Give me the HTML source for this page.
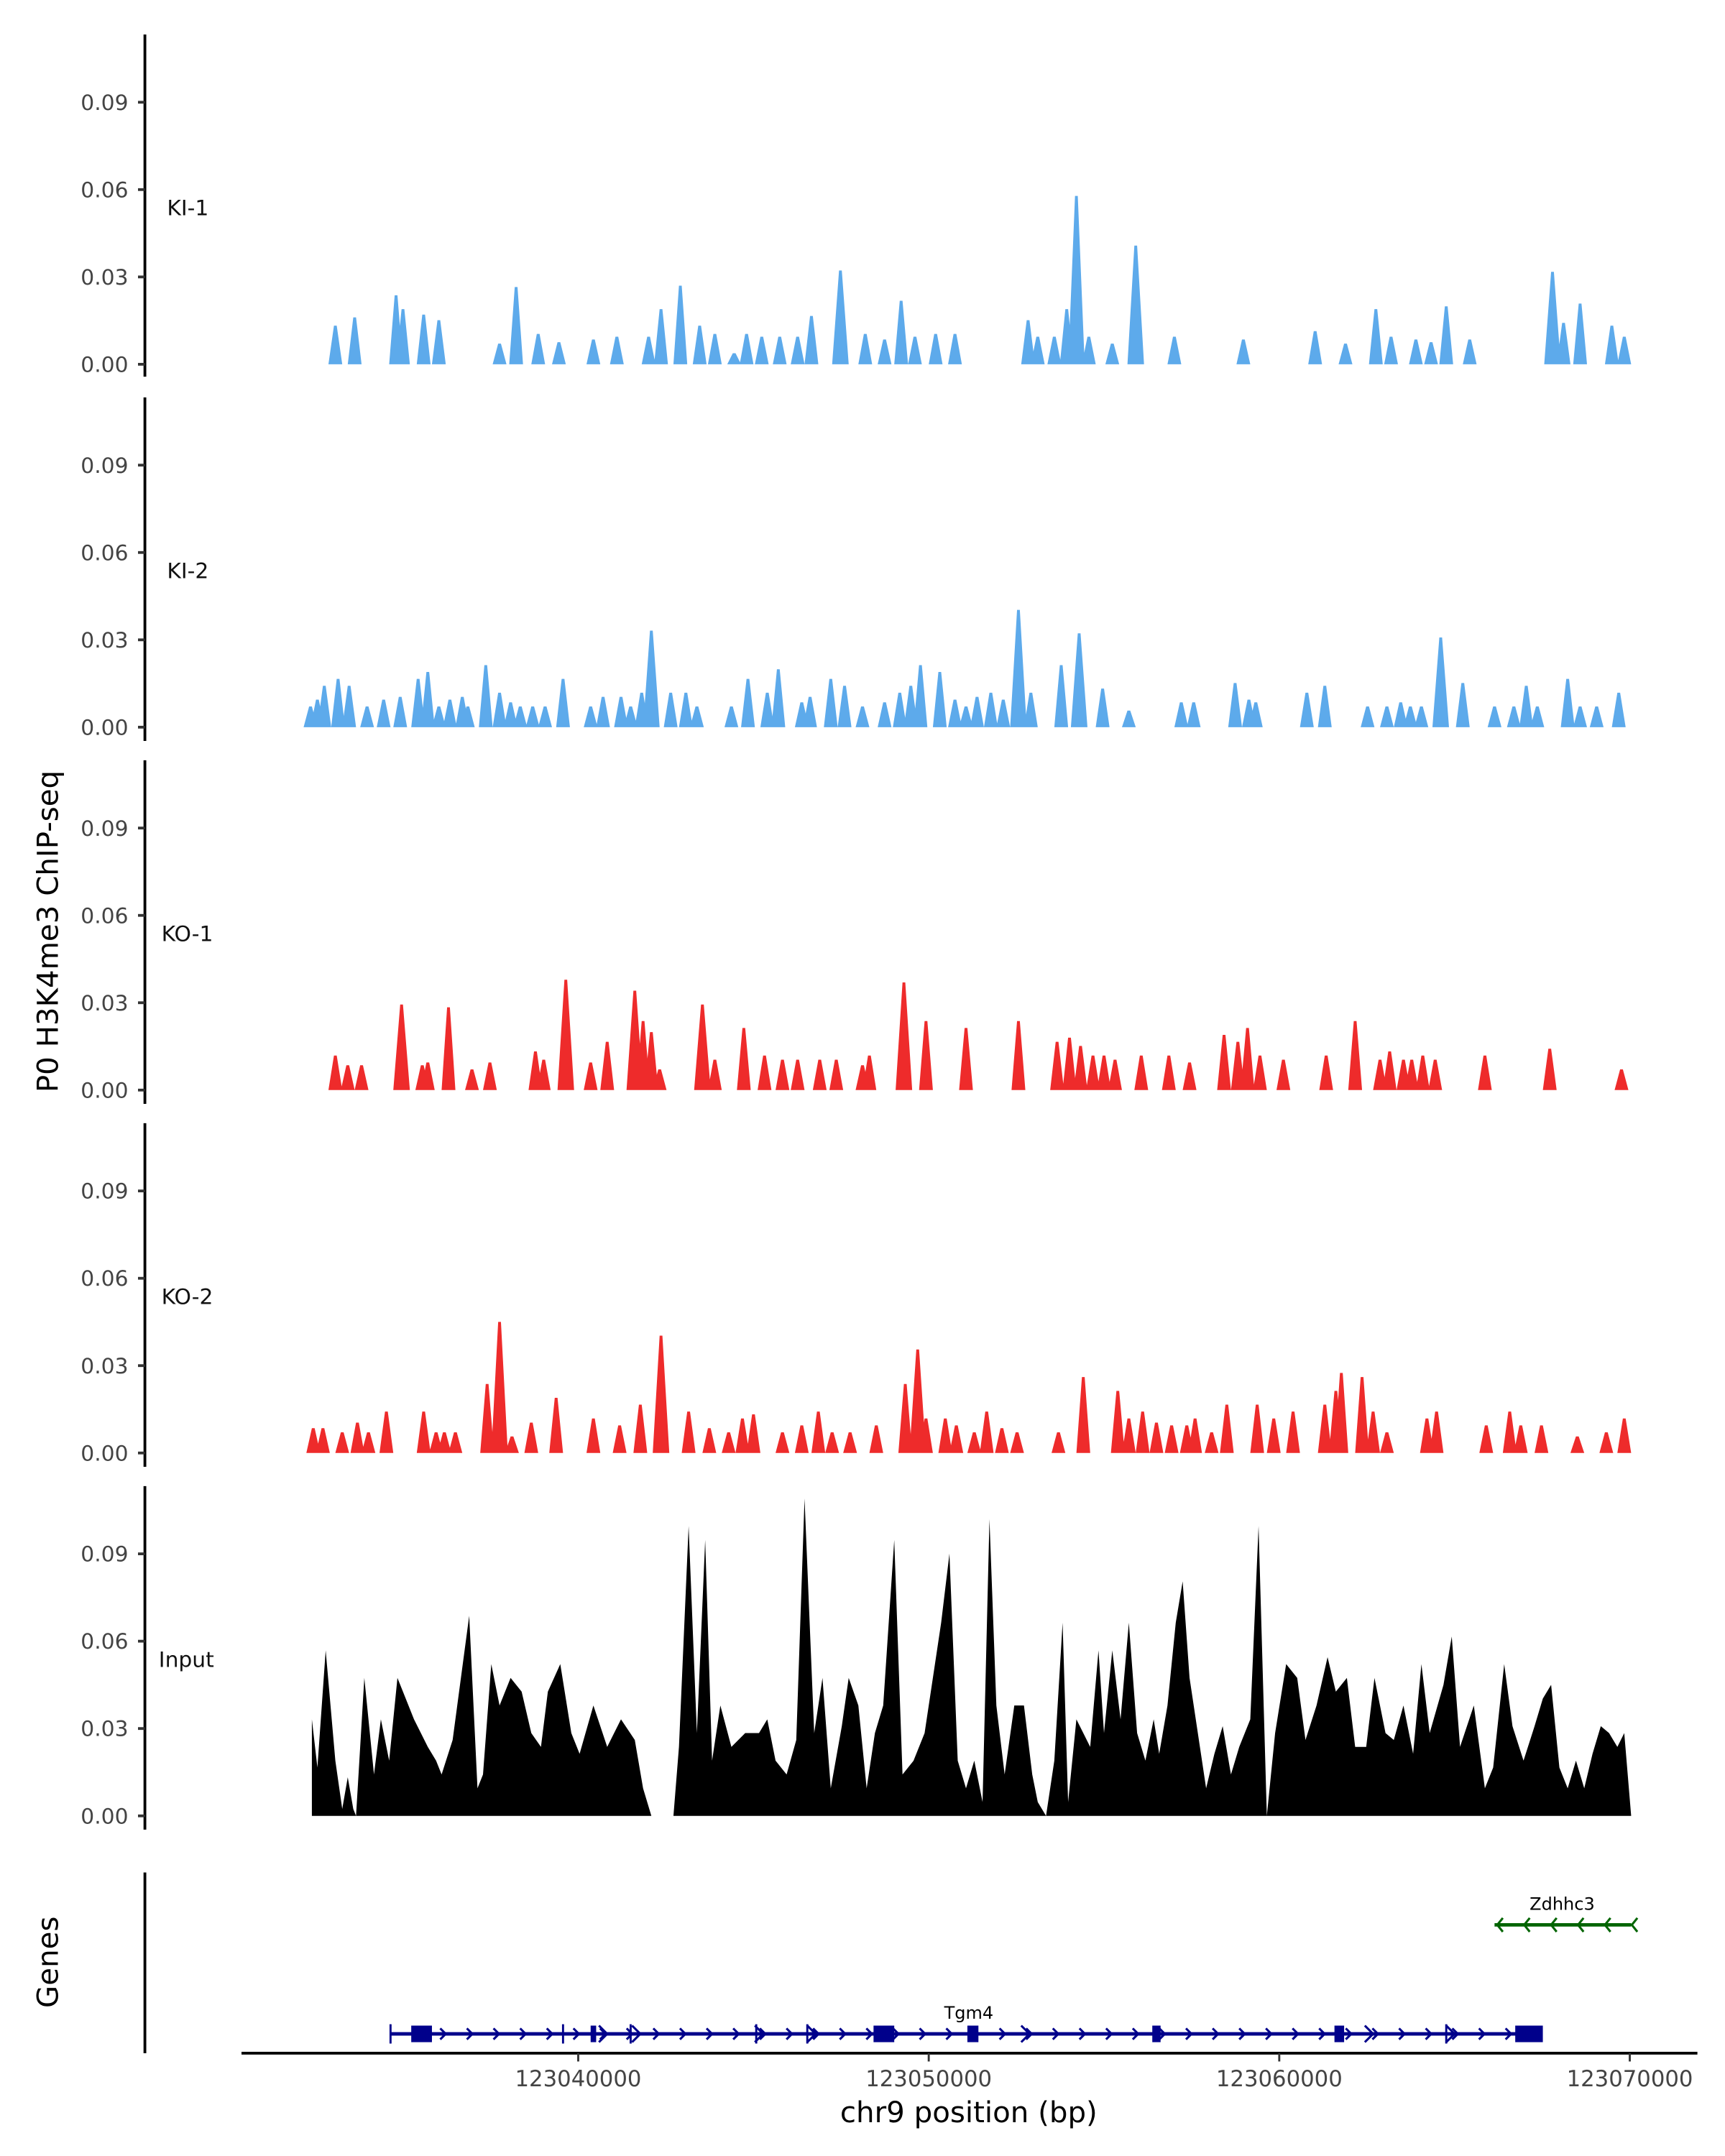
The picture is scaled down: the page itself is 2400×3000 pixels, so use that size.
<!DOCTYPE html>
<html><head><meta charset="utf-8"><style>html,body{margin:0;padding:0;background:#fff}svg{display:block}</style></head>
<body>
<svg id="s" width="2400" height="3000" viewBox="0 0 1250 1562.5" preserveAspectRatio="none" xmlns="http://www.w3.org/2000/svg" font-family="DejaVu Sans, Liberation Sans, sans-serif">
<g id="axes" stroke="#000" stroke-width="2" fill="none">
<line x1="105" y1="25" x2="105" y2="273"/>
<line x1="105" y1="288" x2="105" y2="537"/>
<line x1="105" y1="551" x2="105" y2="800"/>
<line x1="105" y1="814" x2="105" y2="1063"/>
<line x1="105" y1="1077" x2="105" y2="1326"/>
<line x1="105" y1="1357" x2="105" y2="1488"/>
<line x1="175" y1="1488" x2="1230" y2="1488"/>
</g>
<g id="ticks"></g>
<g font-size="15.5" fill="#111">
<text x="121" y="156">KI-1</text>
<text x="121" y="419">KI-2</text>
<text x="117" y="682">KO-1</text>
<text x="117" y="945">KO-2</text>
<text x="115" y="1208">Input</text>
</g>
<text transform="translate(42,675) rotate(-90)" text-anchor="middle" font-size="21" fill="#000">P0 H3K4me3 ChIP-seq</text>
<text transform="translate(42,1422) rotate(-90)" text-anchor="middle" font-size="21" fill="#000">Genes</text>
<g font-size="16" fill="#444" text-anchor="middle">
<text x="419" y="1512">123040000</text><text x="673" y="1512">123050000</text>
<text x="927" y="1512">123060000</text><text x="1181" y="1512">123070000</text>
</g>
<g stroke="#333" stroke-width="1.5"><line x1="419" y1="1488" x2="419" y2="1494"/><line x1="673" y1="1488" x2="673" y2="1494"/><line x1="927" y1="1488" x2="927" y2="1494"/><line x1="1181" y1="1488" x2="1181" y2="1494"/></g>
<text x="702" y="1538" text-anchor="middle" font-size="21" fill="#000">chr9 position (bp)</text>
<g id="tracks"></g>
<g id="genes"></g>
<text x="702" y="1463" text-anchor="middle" font-size="12.5">Tgm4</text>
<text x="1132" y="1384" text-anchor="middle" font-size="12.5">Zdhhc3</text>
</svg>
<script>
var NS="http://www.w3.org/2000/svg";
function el(p,t,a){var e=document.createElementNS(NS,t);for(var k in a)e.setAttribute(k,a[k]);document.getElementById(p).appendChild(e);return e;}
var bases=[264,527,790,1053,1316];
bases.forEach(function(b){
 for(var i=0;i<4;i++){var y=b-i*63.3;
  el("ticks","line",{x1:100,x2:105,y1:y,y2:y,stroke:"#333","stroke-width":2});
  var t=el("ticks","text",{x:93,y:y+5.5,"text-anchor":"end","font-size":"15.5",fill:"#444"});t.textContent=["0.00","0.03","0.06","0.09"][i];}
});
function peaks(str,base,col){
 var d="";str.split(",").forEach(function(p){var a=p.split(":");var x=+a[0],h=+a[1];var w=h>60?6:5;
 d+="M"+(x-w)+","+base+"L"+(x-1)+","+(base-h)+"L"+(x+1)+","+(base-h)+"L"+(x+w)+","+base+"Z";});
 el("tracks","path",{d:d,fill:col});
}
var blue="#5DAAEB",red="#EE2B2B";
peaks("243:28,257:34,287:50,292:40,307:36,318:32,362:15,374:56,390:22,405:16,430:18,447:20,470:20,479:40,493:57,507:28,518:22,532:8,541:22,552:20,565:20,578:20,588:35,609:68,627:22,641:18,653:46,663:20,678:22,692:22,745:32,752:20,764:20,773:40,780:122,789:20,806:15,823:86,851:20,901:18,953:24,975:15,997:40,1008:20,1026:18,1037:16,1048:42,1065:18,1125:67,1133:30,1145:44,1168:28,1177:20",264,blue);
peaks("225:15,230:20,235:30,245:35,253:30,266:15,278:20,290:22,303:35,310:40,318:15,326:20,335:22,339:15,352:45,362:25,370:18,377:15,386:15,395:15,408:35,428:15,437:22,450:22,457:15,465:25,472:70,486:25,497:25,505:15,530:15,542:35,556:25,564:42,581:18,587:22,602:35,612:30,625:15,641:18,652:25,660:30,667:45,681:40,692:20,700:15,708:22,718:25,727:20,738:85,747:25,769:45,782:68,799:28,818:12,856:18,865:18,895:32,905:20,910:18,947:25,960:30,991:15,1005:15,1015:18,1022:15,1030:15,1044:65,1060:32,1083:15,1097:15,1106:30,1114:15,1136:35,1145:15,1157:15,1173:25",527,blue);
peaks("243:25,252:18,262:18,291:62,306:18,310:20,325:60,342:15,355:20,388:28,394:22,410:80,428:20,440:35,460:72,466:50,472:42,478:15,509:62,518:22,539:45,554:25,567:22,578:22,594:22,606:22,625:18,630:25,655:78,671:50,700:45,738:50,766:35,775:38,783:32,792:25,800:25,808:22,827:25,847:25,862:20,887:40,897:35,904:45,913:25,930:22,961:25,982:50,1000:22,1007:28,1017:22,1023:22,1031:25,1040:22,1076:25,1123:30,1175:15",790,red);
peaks("227:18,234:18,248:15,259:22,267:15,280:30,307:30,316:15,322:15,330:15,353:50,362:95,371:12,385:22,403:40,430:25,449:20,464:35,479:85,499:30,514:18,528:15,538:25,546:28,567:15,581:20,593:30,603:15,616:15,635:20,656:50,665:75,671:25,685:25,693:20,706:15,715:30,726:18,737:15,767:15,785:55,810:45,818:25,828:30,838:22,849:20,860:20,866:25,878:15,889:35,911:35,923:25,937:30,960:35,968:45,972:58,987:55,995:30,1005:15,1034:25,1041:30,1077:20,1094:30,1102:20,1117:20,1143:12,1164:15,1177:25",1053,red);
var inp="226:70,230:35,236:120,243:40,248:5,252:28,256:5,258:0,264:100,271:30,276:70,282:40,288:100,292:90,300:70,310:50,316:40,320:30,328:55,340:145,346:20,350:30,356:110,362:80,370:100,378:90,385:60,392:50,397:90,406:110,414:60,420:45,430:80,440:50,450:70,460:55,466:20,472:0,488:0,492:50,499:210,505:60,511:200,516:40,522:80,530:50,540:60,550:60,556:70,562:40,570:30,577:55,583:230,590:60,596:100,602:20,610:65,615:100,622:80,628:20,634:60,640:80,648:200,654:30,662:40,670:60,682:140,688:190,694:40,700:20,706:40,712:10,717:215,722:80,728:30,735:80,742:80,748:30,752:10,758:0,764:40,770:140,774:10,780:70,790:50,796:120,800:60,806:120,812:70,818:140,824:60,830:40,836:70,840:45,846:80,852:140,857:170,862:100,868:60,874:20,880:45,886:65,892:30,898:50,906:70,912:210,918:0,924:60,932:110,940:100,946:55,954:80,962:115,968:90,976:100,982:50,990:50,996:100,1004:60,1010:55,1017:80,1024:45,1030:110,1036:60,1046:95,1052:130,1058:50,1068:80,1076:20,1082:35,1090:110,1096:65,1104:40,1112:65,1118:85,1124:95,1130:35,1136:20,1142:40,1148:20,1154:45,1160:65,1166:60,1172:50,1177:60,1182:0";
var d="M226,1316";inp.split(",").forEach(function(p){var a=p.split(":");d+="L"+a[0]+","+(1316-a[1]);});d+="L1182,1316Z";
el("tracks","path",{d:d,fill:"#000"});
var navy="#00008B";
el("genes","line",{x1:283,x2:1117,y1:1474,y2:1474,stroke:navy,"stroke-width":2.5});
[[298,313],[633,648],[1098,1118],[701,709],[835,841],[967,974],[428,432]].forEach(function(r){el("genes","rect",{x:r[0],y:1468,width:r[1]-r[0],height:12,fill:navy});});
[283,408,457,548,585,1048].forEach(function(x){el("genes","line",{x1:x,x2:x,y1:1467,y2:1481,stroke:navy,"stroke-width":1.5});});
var cd="";for(var x=322;x<1095;x+=19.3){cd+="M"+(x-3)+",1470L"+(x+1)+",1474L"+(x-3)+",1478";}
[437,461,550,588,743,992,1051].forEach(function(x){cd+="M"+(x-3)+",1468L"+(x+3)+",1474L"+(x-3)+",1480";});
el("genes","path",{d:cd,stroke:navy,"stroke-width":1.6,fill:"none"});
var g="#006400";
el("genes","line",{x1:1083,x2:1182,y1:1395,y2:1395,stroke:g,"stroke-width":2.5});
var gd="";for(var x=1086;x<1185;x+=19.5){gd+="M"+(x+3)+",1390L"+(x-1)+",1395L"+(x+3)+",1400";}
el("genes","path",{d:gd,stroke:g,"stroke-width":1.6,fill:"none"});
</script>
</body></html>
